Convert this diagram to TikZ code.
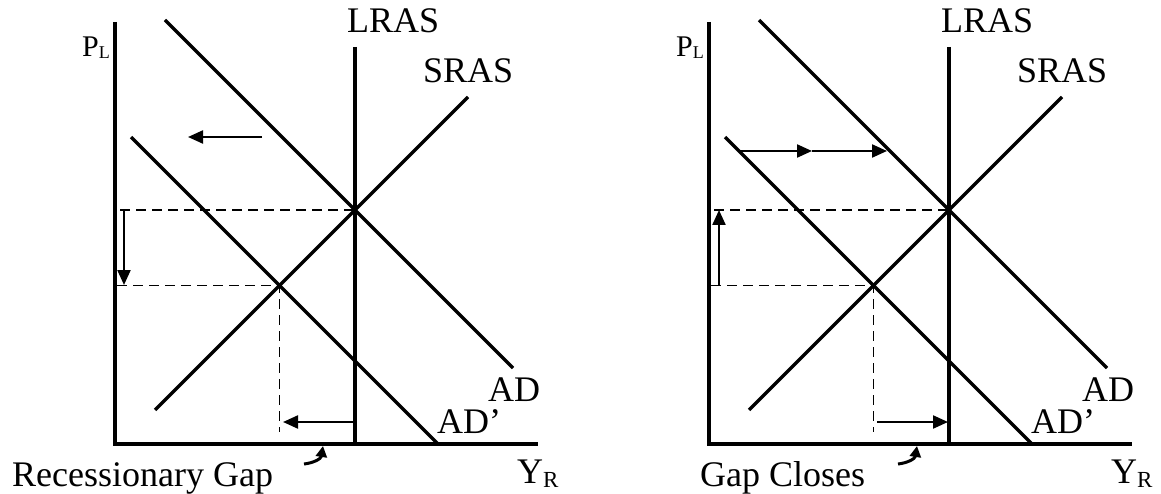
\documentclass[tikz,border=0pt]{standalone}
\usepackage{fontspec}
\setmainfont{Liberation Serif}
\usetikzlibrary{arrows.meta}
\begin{document}
\begin{tikzpicture}[x=1pt,y=-1pt,
  axisline/.style={line width=4.2pt, line join=miter},
  econline/.style={line width=3.4pt},
  dashguide/.style={line width=1.8pt, dash pattern=on 10pt off 6pt},
  mover/.style={line width=2.2pt, -{Triangle[length=15pt,width=13pt]}},
  gaparrow/.style={line width=3pt, -{Triangle[length=11pt,width=11pt]}},
  labtext/.style={inner sep=0pt, anchor=base west, font=\fontsize{36}{40}\selectfont},
  ]
\useasboundingbox (0,0) rectangle (1161,494);
\foreach \g/\dx in {a/0,b/594}{
  \begin{scope}[xshift=\dx pt]
    % axes
    \coordinate (\g-ytop) at (115,22);
    \coordinate (\g-orig) at (115,444);
    \coordinate (\g-xend) at (538,444);
    \draw[axisline] (\g-ytop) -- (\g-orig) -- (\g-xend);
    % curves
    \coordinate (\g-lras1) at (355,47);
    \coordinate (\g-lras2) at (355,444);
    \draw[econline] (\g-lras1) -- (\g-lras2);
    \coordinate (\g-sras1) at (155,410);
    \coordinate (\g-sras2) at (468,97);
    \draw[econline] (\g-sras1) -- (\g-sras2);
    \coordinate (\g-ad1) at (165,20);
    \coordinate (\g-ad2) at (513,368);
    \draw[econline] (\g-ad1) -- (\g-ad2);
    \coordinate (\g-adp1) at (131,137);
    \coordinate (\g-adp2) at (438,444);
    \draw[econline] (\g-adp1) -- (\g-adp2);
    % guides
    \coordinate (\g-e1) at (355,210);
    \coordinate (\g-e2) at (279.5,285.5);
    \coordinate (\g-h1) at (120,210);
    \coordinate (\g-h2) at (117,285.5);
    \coordinate (\g-v2) at (279.5,432);
    \draw[dashguide] (\g-h1) -- (\g-e1);
    \draw[dashguide] (\g-h2) -- (\g-e2) -- (\g-v2);
    % bent arrow under axis
    \coordinate (\g-c1) at (304,464);
    \coordinate (\g-c2) at (323,446);
    \draw[gaparrow] (\g-c1) .. controls (313,463) and (321,459) .. (\g-c2);
    % labels
    \node[labtext] (\g-lraslab) at (347,33) {LRAS};
    \node[labtext] (\g-sraslab) at (423,83) {SRAS};
    \node[labtext] (\g-adlab) at (488,401) {AD};
    \node[labtext] (\g-adplab) at (437,433) {AD’};
    \node[labtext,font=\fontsize{30}{32}\selectfont] (\g-pl) at (82,57)
      {P\raisebox{-1.5pt}{\fontsize{18}{20}\selectfont L}};
    \node[labtext] (\g-yr) at (517,483)
      {Y\raisebox{-4pt}{\fontsize{23}{25}\selectfont R}};
  \end{scope}
}
% left graph: recessionary gap
\coordinate (a-t1) at (262,137);
\coordinate (a-t2) at (188,137);
\draw[mover] (a-t1) -- (a-t2);
\coordinate (a-p1) at (124,210);
\coordinate (a-p2) at (124,285);
\draw[mover] (a-p1) -- (a-p2);
\coordinate (a-q1) at (355,422);
\coordinate (a-q2) at (283,422);
\draw[mover] (a-q1) -- (a-q2);
\node[labtext] (a-title) at (12,486) {Recessionary Gap};
% right graph: gap closes
\coordinate (b-t0) at (740,151);
\coordinate (b-t1) at (812,151);
\coordinate (b-t2) at (887,151);
\draw[mover] (b-t0) -- (b-t1);
\draw[mover] (b-t1) -- (b-t2);
\coordinate (b-p1) at (719,285);
\coordinate (b-p2) at (719,210);
\draw[mover] (b-p1) -- (b-p2);
\coordinate (b-q1) at (877,422);
\coordinate (b-q2) at (948,422);
\draw[mover] (b-q1) -- (b-q2);
\node[labtext] (b-title) at (700,486) {Gap Closes};
\end{tikzpicture}
\end{document}
